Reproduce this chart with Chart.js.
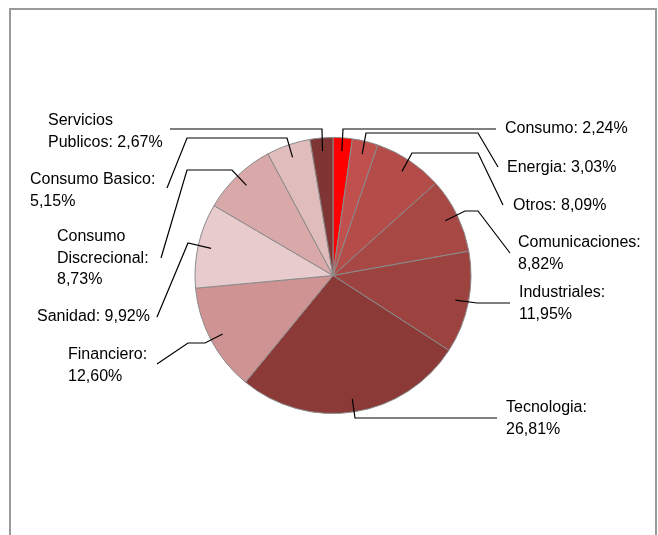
<!DOCTYPE html>
<html>
<head>
<meta charset="utf-8">
<script src="https://cdn.jsdelivr.net/npm/chart.js@4/dist/chart.umd.min.js"></script>
<style>
  html, body { margin: 0; padding: 0; background: #fff; }
  #marco {
    position: absolute; left: 9px; top: 8px; width: 644px; height: 600px;
    border-left: 2px solid #9a9a9a; border-top: 2px solid #9a9a9a; border-right: 2px solid #9a9a9a;
  }
  #caja { position: absolute; left: 0; top: 0; width: 658px; height: 535px; }
</style>
</head>
<body>
<div id="marco"></div>
<div id="caja"><canvas id="torta"></canvas></div>
<script>
// datos del grafico
var categorias = ['Consumo', 'Energia', 'Otros', 'Comunicaciones', 'Industriales', 'Tecnologia',
                  'Financiero', 'Sanidad', 'Consumo Discrecional', 'Consumo Basico', 'Servicios Publicos'];
var valores = [2.24, 3.03, 8.09, 8.82, 11.95, 26.81, 12.60, 9.92, 8.73, 5.15, 2.67];
var colores = ['#FF0000', '#C0504D', '#B44C49', '#A84845', '#9C4340', '#8B3A38',
               '#D09393', '#E8CCCD', '#D9A9A9', '#E0BCBC', '#7F3533'];

// donde va cada etiqueta (quiebres de la linea, texto, palabras por renglon)
var etiquetas = [
  { pts: [[343,129],[496,129]], x: 505, y: 129, renglones: [3] },
  { pts: [[366,133],[478,133],[498,167]], x: 507, y: 168, renglones: [2] },
  { pts: [[412,153],[478,153],[503,205]], x: 513, y: 206, renglones: [2] },
  { pts: [[465,211],[478,211],[510,253]], x: 518, y: 243, renglones: [1,1] },
  { pts: [[477,303],[510,303]], x: 519, y: 293, renglones: [1,1] },
  { pts: [[355,418],[497,418]], x: 506, y: 408, renglones: [1,1] },
  { pts: [[205,343],[188,343],[157,364]], x: 68, y: 355, renglones: [1,1] },
  { pts: [[188,243],[157,317]], x: 37, y: 317, renglones: [2] },
  { pts: [[232,170],[187,170],[161,258]], x: 57, y: 237, renglones: [1,1,1] },
  { pts: [[287,138],[187,138],[167,188]], x: 30, y: 180, renglones: [2,1] },
  { pts: [[322,129],[170,129]], x: 48, y: 121, renglones: [1,2] }
];

function formato(v){
  return v.toFixed(2).replace('.', ',') + '%';
}

var lineasEtiquetas = {
  id: 'lineasEtiquetas',
  afterDatasetsDraw: function(chart){
    var ctx = chart.ctx;
    var arcos = chart.getDatasetMeta(0).data;
    ctx.save();
    for (var i = 0; i < arcos.length; i++) {
      var a = arcos[i];
      var e = etiquetas[i];
      var medio = (a.startAngle + a.endAngle) / 2;
      var r = a.outerRadius * 0.905;
      var ax = a.x + Math.cos(medio) * r;
      var ay = a.y + Math.sin(medio) * r;

      ctx.strokeStyle = '#000';
      ctx.lineWidth = 1.2;
      ctx.beginPath();
      ctx.moveTo(ax, ay);
      e.pts.forEach(function(p){ ctx.lineTo(p[0], p[1]); });
      ctx.stroke();

      var palabras = (categorias[i] + ': ' + formato(valores[i])).split(' ');
      ctx.fillStyle = '#000';
      ctx.font = '16px "Liberation Sans", Arial, sans-serif';
      ctx.textAlign = 'left';
      ctx.textBaseline = 'middle';
      var k = 0;
      for (var j = 0; j < e.renglones.length; j++) {
        var txt = palabras.slice(k, k + e.renglones[j]).join(' ');
        k += e.renglones[j];
        ctx.fillText(txt, e.x, e.y + j * 21.5);
      }
    }
    ctx.restore();
  }
};

var grafico = new Chart(document.getElementById('torta'), {
  type: 'pie',
  data: {
    labels: categorias,
    datasets: [{
      data: valores,
      backgroundColor: colores,
      borderColor: '#8a8a8a',
      borderWidth: 1
    }]
  },
  options: {
    responsive: true,
    maintainAspectRatio: false,
    animation: false,
    layout: { padding: { top: 137, bottom: 121, left: 100, right: 92 } },
    plugins: { legend: { display: false }, tooltip: { enabled: false } }
  },
  plugins: [lineasEtiquetas]
});
</script>
</body>
</html>
